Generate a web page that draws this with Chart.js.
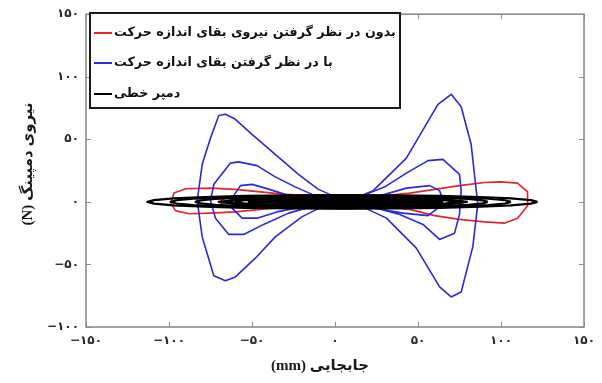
<!DOCTYPE html>
<html>
<head>
<meta charset="utf-8">
<script src="https://cdn.jsdelivr.net/npm/chart.js@4.4.1/dist/chart.umd.min.js"></script>
<style>
  html, body { margin: 0; padding: 0; background: #ffffff; }
  #wrap { width: 602px; height: 383px; }
</style>
</head>
<body>
<div id="wrap"><canvas id="c" width="602" height="383"></canvas></div>
<script>
// Axis ticks (displacement in mm, damping force in N)
const xTickValues = [-150, -100, -50, 0, 50, 100, 150];
const xTickLabels = ['−۱۵۰', '−۱۰۰', '−۵۰', '۰', '۵۰', '۱۰۰', '۱۵۰'];
const yTickValues = [-100, -50, 0, 50, 100, 150];
const yTickLabels = ['−۱۰۰', '−۵۰', '۰', '۵۰', '۱۰۰', '۱۵۰'];

const seriesNames = [
  'بدون در نظر گرفتن نیروی بقای اندازه حرکت',
  'با در نظر گرفتن بقای اندازه حرکت',
  'دمپر خطی'
];
const xTitle = '(mm) جابجایی';
const yTitle = '(N) نیروی دمپینگ';

// Model without the momentum-conservation force: [displacement, force]
const redOuter = [[-99,-1],[-97,7],[-90,10.5],[-75,11],[-60,10],[-45,8],[-30,6],[0,4],[30,5],[45,7],[60,10],[75,13],[90,15.5],[100,16],[110,15],[116,8],[116,-3],[110,-13],[102,-17],[90,-16],[75,-14],[60,-11],[45,-6],[20,-3],[0,-3],[-30,-4],[-45,-6],[-60,-8],[-75,-9],[-88,-9.5],[-96,-7],[-99,-1]];
const redInner = [[-70,0],[-66,3],[-50,3.5],[0,2.5],[40,3],[60,4],[74,3],[78,0],[74,-3],[60,-4],[40,-3],[0,-2],[-50,-3],[-66,-3],[-70,0]];

// Model with the momentum-conservation force
const blueOuter = [[2,3],[-10,10],[-22,22],[-36,38],[-50,54],[-60,66],[-66,70],[-70,69],[-75,51],[-80,30],[-83,1],[-80,-28],[-73,-59],[-66,-63],[-60,-60],[-48,-45],[-36,-28],[-20,-12],[-8,-4],[2,-2],[15,-3],[31,-13],[49,-37],[63,-68],[70,-76],[76,-72],[83,-36],[86,-2],[82,46],[76,76],[70,86],[62,78],[43,35],[23,9],[10,2],[2,3]];
const blueMiddle = [[2,2],[-12,5],[-24,12],[-36,20],[-47,29],[-58,32],[-63,31],[-73,14],[-75,1],[-72,-13],[-64,-26],[-55,-26],[-43,-18],[-28,-9],[-12,-3],[2,-2],[15,-3],[28,-6],[39,-10],[53,-18],[63,-30],[72,-25],[75,-10],[76,9],[75,22],[65,34],[56,33],[43,23],[30,12],[15,4],[2,2]];
const blueInner = [[2,1],[-15,3],[-30,6],[-42,11],[-50,14],[-57,13],[-62,3],[-62,-5],[-56,-13],[-47,-13],[-35,-8],[-20,-4],[2,-1],[20,-3],[32,-7],[41,-9],[56,-11],[62,-5],[65,1],[63,9],[57,13],[43,11],[30,6],[15,2],[2,1]];

// Linear damper loops
const black1 = [[122,0],[118,1.4],[106,2.75],[87.6,3.9],[63.3,4.76],[34.9,5.3],[4.5,5.5],[-25.9,5.3],[-54.3,4.76],[-78.6,3.9],[-97.3,2.75],[-109,1.4],[-113,0],[-109,-1.4],[-97.3,-2.75],[-78.6,-3.9],[-54.3,-4.76],[-25.9,-5.3],[4.5,-5.5],[34.9,-5.3],[63.3,-4.76],[87.6,-3.9],[106,-2.75],[118,-1.4],[122,0]];
const black2 = [[106,0],[102.5,1.3],[92.3,2.5],[76,3.54],[54.75,4.33],[30,4.83],[3.5,5],[-23,4.83],[-47.75,4.33],[-69,3.54],[-85.3,2.5],[-95.5,1.3],[-99,0],[-95.5,-1.3],[-85.3,-2.5],[-69,-3.54],[-47.75,-4.33],[-23,-4.83],[3.5,-5],[30,-4.83],[54.75,-4.33],[76,-3.54],[92.3,-2.5],[102.5,-1.3],[106,0]];
const black3 = [[92,0],[89,1.19],[80.2,2.3],[66.2,3.25],[48,3.98],[26.8,4.44],[4,4.6],[-18.8,4.44],[-40,3.98],[-58.2,3.25],[-72.2,2.3],[-81,1.19],[-84,0],[-81,-1.19],[-72.2,-2.3],[-58.2,-3.25],[-40,-3.98],[-18.8,-4.44],[4,-4.6],[26.8,-4.44],[48,-3.98],[66.2,-3.25],[80.2,-2.3],[89,-1.19],[92,0]];
const black4 = [[77,0],[67,2.15],[41,3.7],[4.5,4.3],[-32,3.7],[-58,2.15],[-68,0],[-58,-2.15],[-32,-3.7],[4.5,-4.3],[41,-3.7],[67,-2.15],[77,0]];
const black5 = [[61,0],[53,2],[33,3.5],[4.5,4],[-24,3.5],[-44,2],[-52,0],[-44,-2],[-24,-3.5],[4.5,-4],[33,-3.5],[53,-2],[61,0]];
const black6 = [[45,0],[39.6,1.8],[25,3.1],[4.5,3.6],[-16,3.1],[-30.6,1.8],[-36,0],[-30.6,-1.8],[-16,-3.1],[4.5,-3.6],[25,-3.1],[39.6,-1.8],[45,0]];
const black7 = [[28,0],[24.8,1.5],[16,2.6],[4,3],[-8,2.6],[-16.8,1.5],[-20,0],[-16.8,-1.5],[-8,-2.6],[4,-3],[16,-2.6],[24.8,-1.5],[28,0]];
const black8 = [[80,0],[70,1.2],[42.5,2.1],[5,2.4],[-32.5,2.1],[-60,1.2],[-70,0],[-60,-1.2],[-32.5,-2.1],[5,-2.4],[42.5,-2.1],[70,-1.2],[80,0]];
const black9 = [[55,0],[48,0.6],[30,1],[5,1.2],[-20,1],[-38,0.6],[-45,0],[-38,-0.6],[-20,-1],[5,-1.2],[30,-1],[48,-0.6],[55,0]];
const black10 = [[72,0],[63.2,2.6],[39,4.5],[6,5.2],[-27,4.5],[-51.2,2.6],[-60,0],[-51.2,-2.6],[-27,-4.5],[6,-5.2],[39,-4.5],[63.2,-2.6],[72,0]];
const black11 = [[58,0],[51.4,1.65],[33.5,2.86],[9,3.3],[-15.5,2.86],[-33.4,1.65],[-40,0],[-33.4,-1.65],[-15.5,-2.86],[9,-3.3],[33.5,-2.86],[51.4,-1.65],[58,0]];
const black12 = [[40,0],[35.3,0.9],[22.5,1.56],[5,1.8],[-12.5,1.56],[-25.3,0.9],[-30,0],[-25.3,-0.9],[-12.5,-1.56],[5,-1.8],[22.5,-1.56],[35.3,-0.9],[40,0]];
const black13 = [[65,0],[40,0.4],[5,0.5],[-30,0.4],[-50,0],[-30,-0.4],[5,-0.5],[40,-0.4],[65,0]];

const RED = '#e3262b';
const BLUE = '#2a2ad8';
const BLACK = '#000000';

const toPts = arr => arr.map(p => ({ x: p[0], y: p[1] }));
function loop(arr, color, width, order) {
  return {
    data: toPts(arr), showLine: true, borderColor: color, backgroundColor: color,
    borderWidth: width, pointRadius: 0, fill: false, tension: 0, order: order,
    borderJoinStyle: 'round'
  };
}

const blackLoops = [black1, black2, black3, black4, black5, black6, black7, black8, black9, black10, black11, black12, black13];
const datasets = [
  loop(redOuter, RED, 1.6, 3), loop(redInner, RED, 1.6, 3),
  loop(blueOuter, BLUE, 1.6, 2), loop(blueMiddle, BLUE, 1.6, 2), loop(blueInner, BLUE, 1.6, 2),
  ...blackLoops.map(b => loop(b, BLACK, 2.2, 1))
];

const tickFont = { family: '"DejaVu Sans"', size: 12, weight: 'bold' };

// Frame with inward tick marks, the boxed legend and the axis titles
const decorations = {
  id: 'decorations',
  afterDatasetsDraw(chart) {
    const { ctx, chartArea: a, scales } = chart;
    const x = scales.x, y = scales.y;
    ctx.save();
    ctx.strokeStyle = '#8c8c8c';
    ctx.lineWidth = 1;
    ctx.beginPath();
    xTickValues.forEach(v => {
      const px = Math.round(x.getPixelForValue(v)) + 0.5;
      ctx.moveTo(px, a.bottom); ctx.lineTo(px, a.bottom - 5);
      ctx.moveTo(px, a.top); ctx.lineTo(px, a.top + 5);
    });
    yTickValues.forEach(v => {
      const py = Math.round(y.getPixelForValue(v)) + 0.5;
      ctx.moveTo(a.left, py); ctx.lineTo(a.left + 5, py);
      ctx.moveTo(a.right, py); ctx.lineTo(a.right - 5, py);
    });
    ctx.stroke();
    ctx.lineWidth = 1.6;
    ctx.strokeRect(a.left, a.top, a.width, a.height);

    // legend box
    const lx = 90, ly = 13, lw = 310, lh = 95;
    ctx.fillStyle = '#ffffff';
    ctx.fillRect(lx, ly, lw, lh);
    ctx.strokeStyle = '#1a1a1a';
    ctx.lineWidth = 2;
    ctx.strokeRect(lx, ly, lw, lh);
    const colors = [RED, BLUE, BLACK];
    const rows = [33, 63, 94];
    ctx.font = 'bold 14px "DejaVu Sans"';
    const w0 = ctx.measureText(seriesNames[0]).width;
    const size = Math.max(10, Math.min(18, 14 * 283 / w0));
    ctx.font = 'bold ' + size.toFixed(1) + 'px "DejaVu Sans"';
    ctx.textAlign = 'left';
    ctx.textBaseline = 'middle';
    seriesNames.forEach((name, i) => {
      ctx.strokeStyle = colors[i];
      ctx.lineWidth = 2;
      ctx.beginPath();
      ctx.moveTo(94, rows[i]); ctx.lineTo(112, rows[i]);
      ctx.stroke();
      ctx.fillStyle = '#111111';
      ctx.fillText(name, 114, rows[i]);
    });

    // axis titles
    ctx.fillStyle = '#1a1a1a';
    ctx.font = 'bold 15px "Liberation Serif", "DejaVu Sans"';
    ctx.textAlign = 'center';
    ctx.textBaseline = 'middle';
    ctx.fillText(xTitle, 320, 366);
    ctx.translate(28, 164);
    ctx.rotate(-Math.PI / 2);
    ctx.fillText(yTitle, 0, 0);
    ctx.restore();
  }
};

new Chart(document.getElementById('c'), {
  type: 'scatter',
  data: { datasets },
  options: {
    responsive: false,
    animation: false,
    devicePixelRatio: 1,
    layout: { padding: { left: 0, top: 12, right: 7, bottom: 0 } },
    plugins: { legend: { display: false }, tooltip: { enabled: false } },
    scales: {
      x: {
        type: 'linear', min: -150, max: 150,
        afterBuildTicks: s => { s.ticks = xTickValues.map(v => ({ value: v })); },
        afterFit: s => { s.height = 56; },
        ticks: {
          font: tickFont, color: '#2a2a2a', padding: 7, maxRotation: 0,
          callback: v => xTickLabels[xTickValues.indexOf(v)]
        },
        grid: { display: false, drawTicks: false },
        border: { display: false }
      },
      y: {
        type: 'linear', min: -100, max: 150,
        afterBuildTicks: s => { s.ticks = yTickValues.map(v => ({ value: v })); },
        afterFit: s => { s.width = 86; },
        ticks: {
          font: tickFont, color: '#2a2a2a', padding: 7,
          callback: v => yTickLabels[yTickValues.indexOf(v)]
        },
        grid: { display: false, drawTicks: false },
        border: { display: false }
      }
    }
  },
  plugins: [decorations]
});
</script>
</body>
</html>
